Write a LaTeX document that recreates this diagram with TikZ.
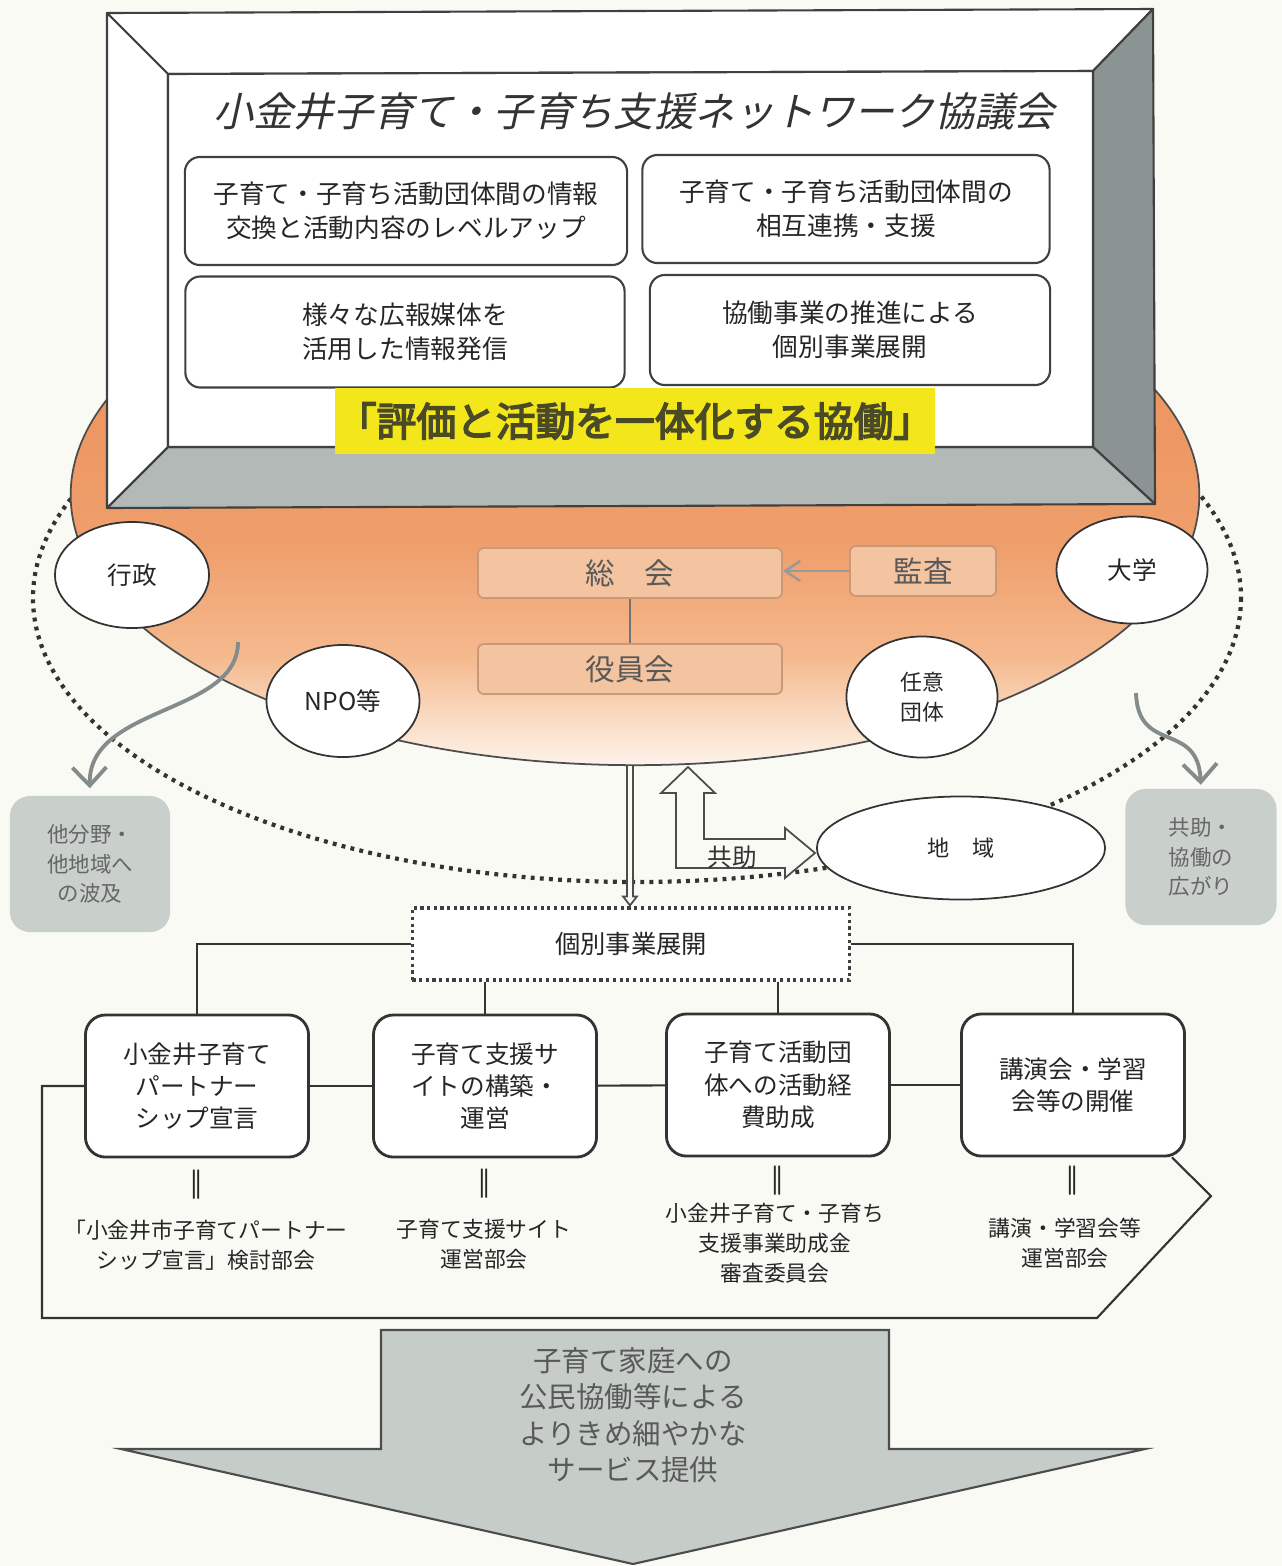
\documentclass[tikz,border=0pt]{standalone}
\usepackage{fontspec}
\setmainfont{Noto Sans CJK JP}
\newfontfamily\jpslant[FakeSlant=0.22]{Noto Sans CJK JP}
\newfontfamily\jpbold[FakeBold=4]{Noto Sans CJK JP}
\newfontfamily\jpmark[FakeBold=3]{Noto Sans CJK JP}
\usepackage{tikz}
\usetikzlibrary{shapes.geometric}
\usetikzlibrary{arrows.meta}
\usetikzlibrary{calc}

\definecolor{paper}{HTML}{FAFAF5}
\definecolor{panelgray}{HTML}{B3B9B7}
\definecolor{paneldark}{HTML}{8C9393}
\definecolor{orangetop}{HTML}{EA8C55}
\definecolor{orangemid}{HTML}{EF9F6C}
\definecolor{orangesoft}{HTML}{F5B98E}
\definecolor{orangepale}{HTML}{FADDC6}
\definecolor{orangelow}{HTML}{FDF3EA}
\definecolor{boxfill}{HTML}{F4C39F}
\definecolor{boxedge}{HTML}{C99878}
\definecolor{banner}{HTML}{F3E71C}
\definecolor{bannertext}{HTML}{4A4A26}
\definecolor{sidegray}{HTML}{C9CFCB}
\definecolor{arrowgray}{HTML}{C6CDC8}
\definecolor{curvegray}{HTML}{838B8B}

\pgfdeclareverticalshading{orangefade}{100bp}{color(0bp)=(orangelow); color(25bp)=(orangelow); color(29bp)=(orangepale); color(35bp)=(orangesoft); color(45bp)=(orangemid); color(75bp)=(orangetop); color(100bp)=(orangetop)}

\tikzset{
	frameline/.style={draw=black!75, line width=0.6pt, line join=round},
	topbox/.style={draw=black!75, line width=0.6pt, rounded corners=1.5mm, fill=white, align=center, text=black!85, font=\fontsize{7.3}{9.6}\selectfont},
	bigbox/.style={draw=black!80, line width=0.8pt, rounded corners=2mm, fill=white, align=center, minimum width=2.23cm, minimum height=1.42cm, text=black!85, font=\fontsize{7}{9.2}\selectfont},
	orgbox/.style={draw=boxedge, fill=boxfill, line width=0.5pt, rounded corners=0.6mm, minimum height=0.5cm, inner sep=0pt, text=black!65, font=\fontsize{8.4}{10}\selectfont},
	member/.style={ellipse, draw=black!80, line width=0.5pt, fill=white, inner sep=0pt, align=center, text=black!85, font=\fontsize{7}{8.5}\selectfont},
	graybox/.style={fill=sidegray, rounded corners=2mm, inner sep=0pt, align=center, text=black!60, font=\fontsize{6.1}{8.4}\selectfont},
	subtext/.style={align=center, text=black!85, font=\fontsize{6.2}{8.5}\selectfont},
	eqmark/.style={text=black!85, font=\jpmark\fontsize{8}{8}\selectfont},
	ring/.style={draw=black!80, line width=1.2pt, dash pattern=on 1.1pt off 1.5pt},
	hollow/.style={draw=black!70, line width=0.5pt, fill=paper, line join=miter},
	treeline/.style={draw=black!80, line width=0.6pt},
	curve/.style={draw=curvegray, line width=1.1pt, -{Straight Barb[length=1.8mm,width=3.4mm]}},
}

\begin{document}
\begin{tikzpicture}[x=0.01cm, y=-0.01cm]
	\useasboundingbox (0,0) rectangle (1282,1566);
	\fill[paper] (0,0) rectangle (1282,1566);

	% dotted ring
	\draw[ring] (637,598) ellipse (604 and 284);

	% orange core
	\node[ellipse, draw=black!70, line width=0.5pt, shading=orangefade, minimum width=11.28cm, minimum height=5.4cm, inner sep=0pt] (core) at (635,495) {};

	% frame
	\draw[frameline, fill=white] (107,13) -- (1153,9) -- (1093,71) -- (168,74) -- cycle;
	\draw[frameline, fill=white] (107,13) -- (168,74) -- (168,447) -- (107,508) -- cycle;
	\draw[frameline, fill=paneldark] (1153,9) -- (1155,504) -- (1093,447) -- (1093,71) -- cycle;
	\draw[frameline, fill=panelgray] (107,508) -- (1155,504) -- (1093,447) -- (168,447) -- cycle;
	\draw[frameline, fill=white] (168,74) -- (1093,71) -- (1093,447) -- (168,447) -- cycle;

	\node[text=black!80, font=\jpslant\fontsize{11.4}{13}\selectfont] (title) at (634,111) {小金井子育て・子育ち支援ネットワーク協議会};

	\node[topbox, minimum width=4.42cm, minimum height=1.08cm] (info) at (406,211) {子育て・子育ち活動団体間の情報\\交換と活動内容のレベルアップ};
	\node[topbox, minimum width=4.07cm, minimum height=1.08cm] (link) at (846,209) {子育て・子育ち活動団体間の\\相互連携・支援};
	\node[topbox, minimum width=4.39cm, minimum height=1.11cm] (media) at (405,332) {様々な広報媒体を\\活用した情報発信};
	\node[topbox, minimum width=4.00cm, minimum height=1.10cm] (joint) at (850,330) {協働事業の推進による\\個別事業展開};

	% banner
	\node[fill=banner, text=bannertext, inner sep=0pt, minimum width=6cm, minimum height=0.65cm, font=\jpbold\fontsize{11.3}{13}\selectfont] (motto) at (635,421) {「評価と活動を一体化する協働」};

	% organs
	\node[orgbox, minimum width=3.04cm] (sokai) at (630,573) {総　会};
	\node[orgbox, minimum width=1.46cm] (kansa) at (923,571) {監査};
	\node[orgbox, minimum width=3.04cm] (yakuin) at (630,669) {役員会};
	\draw[draw=black!55, line width=0.5pt] (sokai) -- (yakuin);
	\draw[draw=black!40, line width=0.7pt, -{Straight Barb[length=1.5mm,width=2mm]}] (kansa.west) -- (kansa.west -| sokai.east);

	% members
	\node[member, minimum width=1.54cm, minimum height=1.06cm] (gyosei) at (132,575) {行政};
	\node[member, minimum width=1.51cm, minimum height=1.07cm] (daigaku) at (1132,570) {大学};
	\node[member, minimum width=1.53cm, minimum height=1.12cm] (npo) at (343,701) {NPO等};
	\node[member, minimum width=1.51cm, minimum height=1.21cm, font=\fontsize{6.2}{8.5}\selectfont] (nini) at (922,697) {任意\\団体};
	\node[member, minimum width=2.88cm, minimum height=1.03cm, font=\fontsize{6.3}{8}\selectfont] (chiiki) at (961,848) {地　域};

	% spread boxes
	\node[graybox, minimum width=1.6cm, minimum height=1.36cm] (hakyu) at (90,864) {他分野・\\他地域へ\\の波及};
	\node[graybox, minimum width=1.51cm, minimum height=1.36cm] (hirogari) at (1201,857) {共助・\\協働の\\広がり};
	\coordinate (gyosei-tail) at (238,642);
	\coordinate (nini-tail) at (1136,693);
	\draw[curve, shorten >=2pt] (gyosei-tail) .. controls (238,715) and (88,705) .. (hakyu.north);
	\draw[curve, shorten >=1pt] (nini-tail) .. controls (1138,755) and (1198,720) .. (hirogari.north);

	% down to projects
	\node[draw=black!75, line width=0.9pt, densely dotted, fill=white, minimum width=4.37cm, minimum height=0.72cm, text=black!85, font=\fontsize{7.2}{9}\selectfont] (ind) at (631,944) {個別事業展開};
	\draw[hollow] ($(core.south -| ind.north)+(-4,0)$) -- ($(ind.north)+(-4,-10)$) -- ($(ind.north)+(-8,-10)$) -- ($(ind.north)+(-1,-1)$) -- ($(ind.north)+(6,-10)$) -- ($(ind.north)+(2,-10)$) -- ($(core.south -| ind.north)+(2,0)$);

	% kyojo arrow
	\draw[hollow] (688,767) -- (715,793) -- (704,793) -- (704,839) -- (785,839) -- (785,828) -- (815,853) -- (785,878) -- (785,868) -- (676,868) -- (676,793) -- (661,793) -- cycle;
	\node[text=black!80, font=\fontsize{7}{8}\selectfont] (kyojo) at (732,857) {共助};

	% projects
	\node[bigbox] (b1) at (197,1086) {小金井子育て\\パートナー\\シップ宣言};
	\node[bigbox] (b2) at (485,1086) {子育て支援サ\\イトの構築・\\運営};
	\node[bigbox] (b3) at (778,1085) {子育て活動団\\体への活動経\\費助成};
	\node[bigbox] (b4) at (1073,1085) {講演会・学習\\会等の開催};
	\draw[treeline] (ind.west) -| (b1.north);
	\draw[treeline] (ind.east) -| (b4.north);
	\draw[treeline] (ind.south -| b2.north) -- (b2.north);
	\draw[treeline] (ind.south -| b3.north) -- (b3.north);
	\draw[treeline] (b1) -- (b2);
	\draw[treeline] (b2) -- (b3);
	\draw[treeline] (b3) -- (b4);

	% pentagon
	\coordinate (penta-tip) at (1211,1196);
	\draw[treeline] (b1.west) -- (42,1086) -- (42,1318) -- (1097,1318) -- (penta-tip) -- ($(b4.south east)+(-14,0)$);

	\node[eqmark] (eq1) at (196,1184) {‖};
	\node[eqmark] (eq2) at (484,1183) {‖};
	\node[eqmark] (eq3) at (777,1180) {‖};
	\node[eqmark] (eq4) at (1072,1180) {‖};

	\node[subtext] (s1) at (206,1245) {「小金井市子育てパートナー\\シップ宣言」検討部会};
	\node[subtext] (s2) at (484,1244) {子育て支援サイト\\運営部会};
	\node[subtext] (s3) at (775,1243) {小金井子育て・子育ち\\支援事業助成金\\審査委員会};
	\node[subtext] (s4) at (1065,1243) {講演・学習会等\\運営部会};

	% service arrow
	\draw[draw=black!70, line width=0.6pt, fill=arrowgray, line join=miter] (381,1330) -- (889,1330) -- (889,1449) -- (1145,1449) -- (633,1564) -- (121,1449) -- (381,1449) -- cycle;
	\node[align=center, text=black!65, font=\fontsize{8.1}{10.4}\selectfont] (service) at (633,1415) {子育て家庭への\\公民協働等による\\よりきめ細やかな\\サービス提供};
\end{tikzpicture}
\end{document}
